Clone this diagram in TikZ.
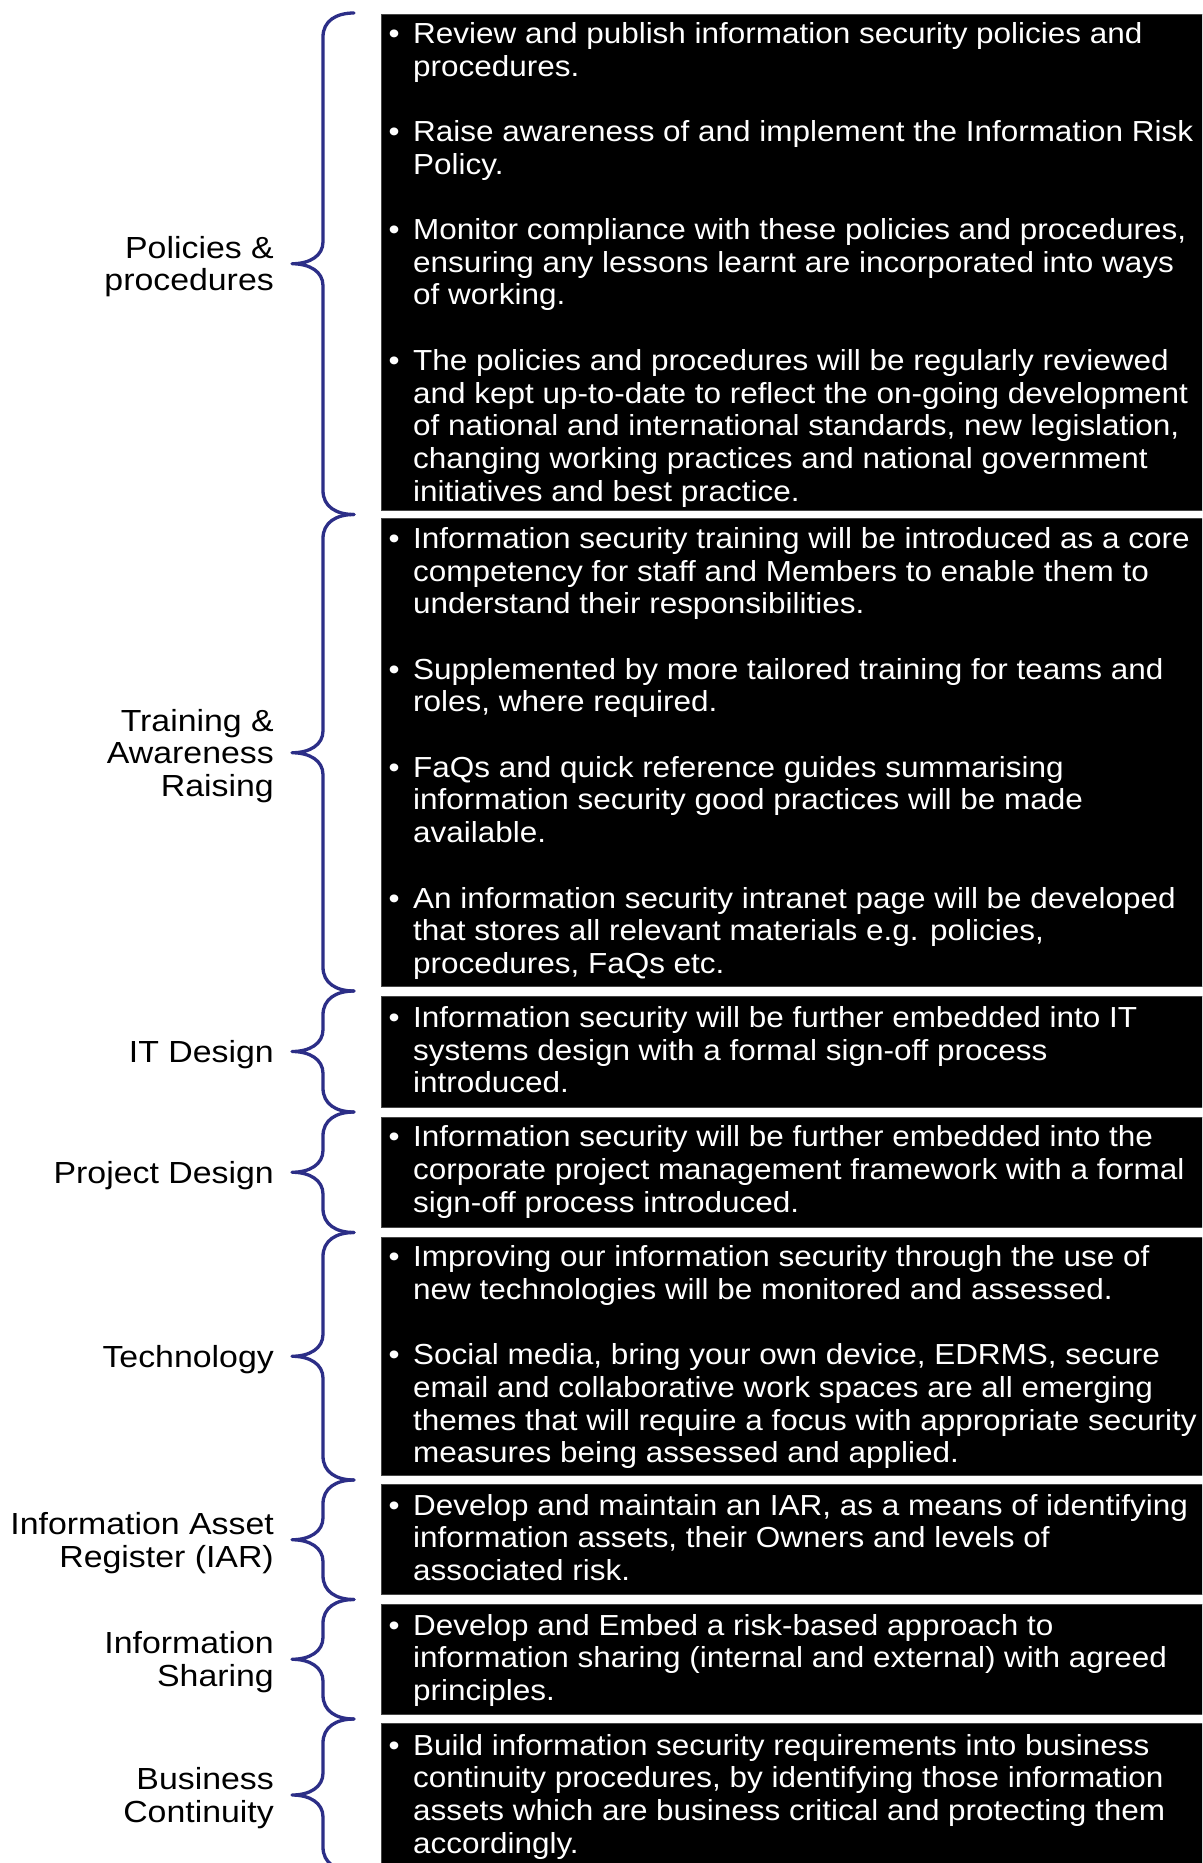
\documentclass[tikz,border=0pt]{standalone}
\usepackage{fontspec}
\setmainfont{Liberation Sans}[FakeStretch=1.085]
\newfontfamily\labfam{Liberation Sans}[FakeStretch=1.11]
\definecolor{bracec}{RGB}{44,46,135}
\definecolor{boxedge}{RGB}{70,70,70}
\tikzset{
  infobox/.style={fill=black, draw=boxedge, line width=0.8pt},
  bracestyle/.style={draw=bracec, line width=3.3pt, line cap=round, line join=round},
  bodytext/.style={anchor=base west, inner sep=0pt, text=white},
  labeltext/.style={anchor=base east, inner sep=0pt, text=black},
}
\newcommand{\bodyfont}{\fontsize{29}{32.7}\selectfont}
\newcommand{\labfont}{\labfam\fontsize{30.5}{32.7}\selectfont}
\newcommand{\blt}{\makebox[0pt][r]{•\hspace{13.6pt}}}
\newcommand{\bodytxt}[1]{\parbox[t]{800pt}{\bodyfont #1}}
\newcommand{\labtxt}[1]{{\labfont\begin{tabular}[t]{@{}r@{}}#1\end{tabular}}}
\newcommand{\curly}[2]{%
  \draw[bracestyle] (354,#1) .. controls (336,#1) and (323,{#1+8}) .. (323,{#1+24})
    -- (323,{(#1+#2)/2-22}) .. controls (323,{(#1+#2)/2-8}) and (310,{(#1+#2)/2}) .. (292,{(#1+#2)/2})
    .. controls (310,{(#1+#2)/2}) and (323,{(#1+#2)/2+8}) .. (323,{(#1+#2)/2+22})
    -- (323,{#2-24}) .. controls (323,{#2-8}) and (336,#2) .. (354,#2);}
\begin{document}
\begin{tikzpicture}[x=1pt,y=-1pt]
\useasboundingbox (0,0) rectangle (1202,1863);
\clip (0,0) rectangle (1202,1863);
\fill[white] (0,0) rectangle (1202,1863);

% boxes
\draw[infobox] (381,14) rectangle (1210,510.5);
\draw[infobox] (381,518.5) rectangle (1210,986.7);
\draw[infobox] (381,996) rectangle (1210,1107);
\draw[infobox] (381,1117) rectangle (1210,1227);
\draw[infobox] (381,1237.5) rectangle (1210,1475);
\draw[infobox] (381,1484.5) rectangle (1210,1594.5);
\draw[infobox] (381,1604.3) rectangle (1210,1714);
\draw[infobox] (381,1723.5) rectangle (1210,1880);

% braces
\curly{13}{514.5}
\curly{514.5}{991}
\curly{991}{1112}
\curly{1112}{1232.5}
\curly{1232.5}{1480}
\curly{1480}{1599.5}
\curly{1599.5}{1719}
\curly{1719}{1871}

% body texts
\node[bodytext] (t1) at (413,43.3) {\bodytxt{%
\blt Review and publish information security policies and\\
procedures.\\
~\\
\blt Raise awareness of and implement the Information Risk\\
Policy.\\
~\\
\blt Monitor compliance with these policies and procedures,\\
ensuring any lessons learnt are incorporated into ways\\
of working.\\
~\\
\blt The policies and procedures will be regularly reviewed\\
and kept up-to-date to reflect the on-going development\\
of national and international standards, new legislation,\\
changing working practices and national government\\
initiatives and best practice.}};

\node[bodytext] (t2) at (413,548.3) {\bodytxt{%
\blt Information security training will be introduced as a core\\
competency for staff and Members to enable them to\\
understand their responsibilities.\\
~\\
\blt Supplemented by more tailored training for teams and\\
roles, where required.\\
~\\
\blt FaQs and quick reference guides summarising\\
information security good practices will be made\\
available.\\
~\\
\blt An information security intranet page will be developed\\
that stores all relevant materials e.g. policies,\\
procedures, FaQs etc.}};

\node[bodytext] (t3) at (413,1027.3) {\bodytxt{%
\blt Information security will be further embedded into IT\\
systems design with a formal sign-off process\\
introduced.}};

\node[bodytext] (t4) at (413,1146.7) {\bodytxt{%
\blt Information security will be further embedded into the\\
corporate project management framework with a formal\\
sign-off process introduced.}};

\node[bodytext] (t5) at (413,1266.7) {\bodytxt{%
\blt Improving our information security through the use of\\
new technologies will be monitored and assessed.\\
~\\
\blt Social media, bring your own device, EDRMS, secure\\
email and collaborative work spaces are all emerging\\
themes that will require a focus with appropriate security\\
measures being assessed and applied.}};

\node[bodytext] (t6) at (413,1515) {\bodytxt{%
\blt Develop and maintain an IAR, as a means of identifying\\
information assets, their Owners and levels of\\
associated risk.}};

\node[bodytext] (t7) at (413,1635) {\bodytxt{%
\blt Develop and Embed a risk-based approach to\\
information sharing (internal and external) with agreed\\
principles.}};

\node[bodytext] (t8) at (413,1755) {\bodytxt{%
\blt Build information security requirements into business\\
continuity procedures, by identifying those information\\
assets which are business critical and protecting them\\
accordingly.}};

% labels
\node[labeltext] (l1) at (274,258.2) {\labtxt{Policies \&\\procedures}};
\node[labeltext] (l2) at (274,731) {\labtxt{Training \&\\Awareness\\Raising}};
\node[labeltext] (l3) at (274,1062.5) {\labtxt{IT Design}};
\node[labeltext] (l4) at (274,1183.3) {\labtxt{Project Design}};
\node[labeltext] (l5) at (274,1367.3) {\labtxt{Technology}};
\node[labeltext] (l6) at (274,1534.4) {\labtxt{Information Asset\\Register (IAR)}};
\node[labeltext] (l7) at (274,1653.9) {\labtxt{Information\\Sharing}};
\node[labeltext] (l8) at (274,1789.7) {\labtxt{Business\\Continuity}};
\end{tikzpicture}
\end{document}
